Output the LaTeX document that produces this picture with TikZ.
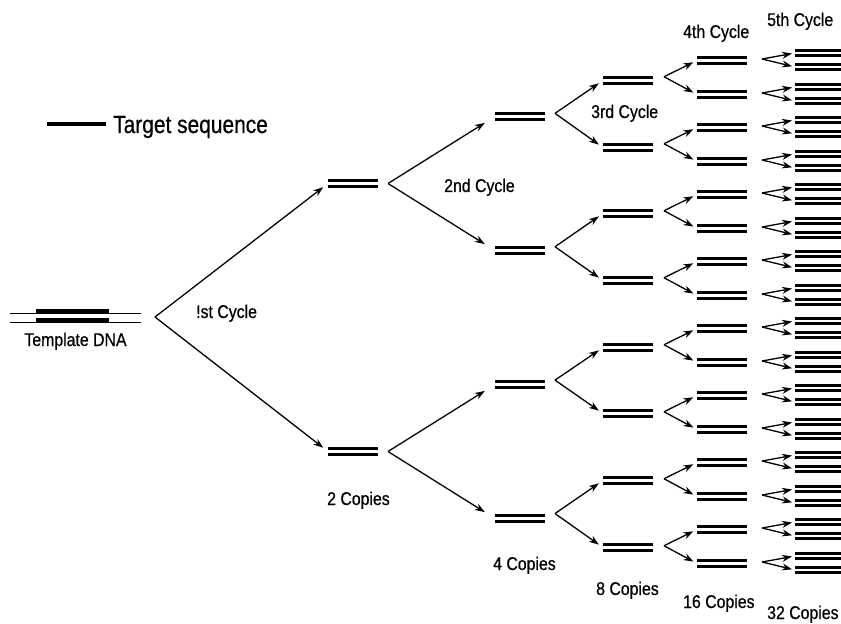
\documentclass[tikz,border=0pt]{standalone}
\usepackage{fontspec}
\setmainfont{Liberation Sans}
\newfontfamily\lblfont{Liberation Sans}[FakeStretch=0.86,FakeBold=0.6]
\newfontfamily\bigfont{Liberation Sans}[FakeStretch=0.84,FakeBold=0.6]
\usetikzlibrary{arrows.meta,calc}
\begin{document}
\begin{tikzpicture}[x=1bp,y=-1bp,
  pairbox/.style={minimum width=50bp,minimum height=12bp,inner sep=0pt,outer sep=0pt,
    path picture={
      \draw[line width=3bp] ([yshift=3bp]path picture bounding box.west) -- ([yshift=3bp]path picture bounding box.east);
      \draw[line width=3bp] ([yshift=-3bp]path picture bounding box.west) -- ([yshift=-3bp]path picture bounding box.east);}},
  smallpair/.style={minimum width=47bp,minimum height=10bp,inner sep=0pt,outer sep=0pt,
    path picture={
      \draw[line width=3bp] ([yshift=2.5bp]path picture bounding box.west) -- ([yshift=2.5bp]path picture bounding box.east);
      \draw[line width=3bp] ([yshift=-2.5bp]path picture bounding box.west) -- ([yshift=-2.5bp]path picture bounding box.east);}},
  arr/.style={line width=1.3bp,-{Stealth[length=10bp,width=7bp]}},
  lbl/.style={anchor=base west,inner sep=0pt,font=\lblfont\fontsize{18.5}{20}\selectfont},
]
\useasboundingbox (0,0) rectangle (841,624);

% legend
\node[anchor=base west,inner sep=0pt,font=\bigfont\fontsize{25}{28}\selectfont] (legend) at (113,133) {Target sequence};
\coordinate (legstart) at (47,124);
\draw[line width=4bp] (legstart) -- (legstart -| 106,0);

% template DNA
\node[minimum width=131bp,minimum height=14bp,inner sep=0pt] (tmpl) at (75.5,318) {};
\draw[line width=1bp] ($(tmpl.west)+(0,-4.5)$) -- ($(tmpl.east)+(0,-4.5)$);
\draw[line width=1bp] ($(tmpl.west)+(0,4.5)$) -- ($(tmpl.east)+(0,4.5)$);
\draw[line width=5bp] ($(tmpl.west)+(26,-6.5)$) -- ++(73,0);
\draw[line width=5bp] ($(tmpl.west)+(26,2.5)$) -- ++(73,0);
\node[anchor=base,inner sep=0pt,font=\lblfont\fontsize{18.5}{20}\selectfont] (tmpllabel) at (75.5,346) {Template DNA};
\coordinate (v) at (155,317);

% level 1
\node[pairbox] (a0) at (353,183.5) {};
\node[pairbox] (a1) at (353,451.5) {};
\foreach \k in {0,1} {
  \draw[arr,shorten >=6bp] (v) -- (a\k.west);
}

% level 2
\foreach \k/\yy in {0/116.5,1/250.5,2/384.5,3/518.5} {
  \node[pairbox] (b\k) at (520,\yy) {};
}
\foreach \k in {0,1} {
  \coordinate (va\k) at ($(a\k.east)+(10,0)$);
  \pgfmathtruncatemacro\m{2*\k}
  \pgfmathtruncatemacro\n{2*\k+1}
  \draw[arr,shorten >=12bp] (va\k) -- (b\m.west);
  \draw[arr,shorten >=12bp] (va\k) -- (b\n.west);
}

% level 3
\foreach \j in {0,...,7} {
  \pgfmathsetmacro\yy{round(80+66.7*\j)+0.5}
  \node[pairbox] (c\j) at (628,\yy) {};
}
\foreach \k in {0,...,3} {
  \pgfmathsetmacro\yy{113.35+133.4*\k}
  \coordinate (vb\k) at (555,\yy);
  \pgfmathtruncatemacro\m{2*\k}
  \pgfmathtruncatemacro\n{2*\k+1}
  \draw[arr,shorten >=5bp] (vb\k) -- (c\m.west);
  \draw[arr,shorten >=5bp] (vb\k) -- (c\n.west);
}

% level 4
\foreach \i in {0,...,15} {
  \pgfmathsetmacro\yy{round(60+33.5*\i)+0.5}
  \node[pairbox] (d\i) at (722,\yy) {};
}
\foreach \j in {0,...,7} {
  \pgfmathsetmacro\yy{76.75+67*\j}
  \coordinate (vc\j) at (664,\yy);
  \pgfmathtruncatemacro\m{2*\j}
  \pgfmathtruncatemacro\n{2*\j+1}
  \draw[arr,shorten >=4bp] (vc\j) -- (d\m.west);
  \draw[arr,shorten >=4bp] (vc\j) -- (d\n.west);
}

% level 5
\foreach \i in {0,...,15} {
  \pgfmathsetmacro\yy{round(60+33.5*\i)}
  \node[smallpair] (ea\i) at (818.5,\yy-7) {};
  \node[smallpair] (eb\i) at (818.5,\yy+7) {};
  \coordinate (vd\i) at (762,\yy-1);
  \draw[arr,shorten >=3bp] (vd\i) -- (ea\i.west);
  \draw[arr,shorten >=3bp] (vd\i) -- (eb\i.west);
}

% labels
\node[lbl] (c1lbl) at (196,318) {!st Cycle};
\node[lbl] (c2lbl) at (444,192) {2nd Cycle};
\node[lbl] (c3lbl) at (591,118) {3rd Cycle};
\node[lbl] (c4lbl) at (683,38) {4th Cycle};
\node[lbl] (c5lbl) at (767,26) {5th Cycle};
\node[lbl] (k2) at (327,505) {2 Copies};
\node[lbl] (k4) at (493,570) {4 Copies};
\node[lbl] (k8) at (596,595) {8 Copies};
\node[lbl] (k16) at (683,608) {16 Copies};
\node[lbl] (k32) at (767,619) {32 Copies};
\end{tikzpicture}
\end{document}
